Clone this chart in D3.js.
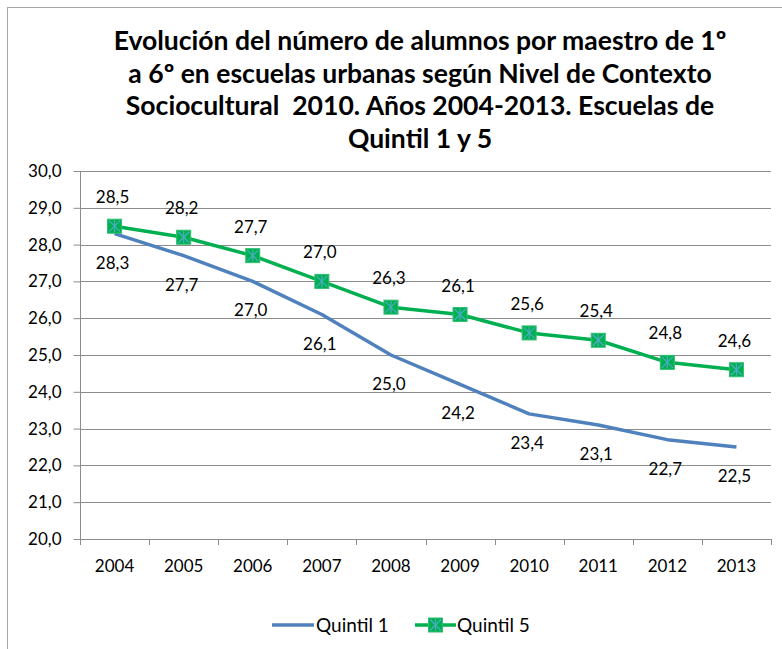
<!DOCTYPE html>
<html><head><meta charset="utf-8">
<script src="https://cdn.jsdelivr.net/npm/d3@7"></script>
<style>
body{margin:0;background:#fff;}
svg{display:block;font-family:Lato,"Open Sans",sans-serif;}
</style></head>
<body>
<svg id="c" width="782" height="649"></svg>
<script>
const years = ["2004","2005","2006","2007","2008","2009","2010","2011","2012","2013"];
const quintil1 = [28.3,27.7,27.0,26.1,25.0,24.2,23.4,23.1,22.7,22.5];
const quintil5 = [28.5,28.2,27.7,27.0,26.3,26.1,25.6,25.4,24.8,24.6];
const yTicks = [20,21,22,23,24,25,26,27,28,29,30];
const titleLines = ["Evolución del número de alumnos por maestro de 1º",
  "a 6º en escuelas urbanas según Nivel de Contexto",
  "Sociocultural  2010. Años 2004-2013. Escuelas de",
  "Quintil 1 y 5"];
const seriesNames = ["Quintil 1","Quintil 5"];

const svg = d3.select("#c");
const fmt = v => v.toFixed(1).replace(".", ",");
const LBL = 17;

// outer border
svg.append("rect").attr("x",7.5).attr("y",7.5).attr("width",800).attr("height",700)
  .attr("fill","none").attr("stroke","#a6a6a6").attr("stroke-width",1);

// title
const t = svg.append("text").attr("text-anchor","middle").attr("font-weight","bold")
  .attr("font-size",22).attr("fill","#000").style("white-space","pre");
const tsp = titleLines.map((s,i)=>
  t.append("tspan").attr("x",420).attr("y",50+i*32.7).text(s));
const w0 = tsp[0].node().getComputedTextLength();
t.attr("font-size", Math.min(27, 22*613/w0));

const x = d3.scaleBand().domain(years).range([80,771]);
const y = d3.scaleLinear().domain([20,30]).range([539,171]);

// gridlines
svg.append("g").selectAll("line").data(yTicks.filter(d=>d>20)).join("line")
  .attr("x1",80).attr("x2",771).attr("y1",d=>Math.round(y(d))+0.5).attr("y2",d=>Math.round(y(d))+0.5)
  .attr("stroke","#8c8c8c").attr("stroke-width",1);

// y axis
const ya = svg.append("g").attr("transform","translate(80.5,0)")
  .call(d3.axisLeft(y).tickValues(yTicks).tickSize(7).tickPadding(12).tickFormat(fmt));
ya.select(".domain").attr("stroke","#8c8c8c").attr("d","M0,171V539.5");
ya.selectAll(".tick line").attr("stroke","#8c8c8c");
ya.selectAll(".tick text").attr("font-family","Lato,sans-serif").attr("font-size",LBL).attr("fill","#000");

// x axis
const xa = svg.append("g").attr("transform","translate(0,539.5)")
  .call(d3.axisBottom(x).tickSize(0).tickPadding(20));
xa.select(".domain").attr("stroke","#8c8c8c").attr("d","M80,0H771");
xa.selectAll(".tick text").attr("font-family","Lato,sans-serif").attr("font-size",LBL).attr("fill","#000");
svg.append("g").selectAll("line").data(d3.range(years.length+1)).join("line")
  .attr("x1",i=>Math.round(80+i*x.step())+0.5).attr("x2",i=>Math.round(80+i*x.step())+0.5)
  .attr("y1",539).attr("y2",545).attr("stroke","#8c8c8c");

const cx = d => x(d)+x.bandwidth()/2;
const line = d3.line().x((d,i)=>cx(years[i])).y(d=>y(d));

svg.append("path").datum(quintil1).attr("d",line).attr("fill","none")
  .attr("stroke","#4f81bd").attr("stroke-width",3.5).attr("stroke-linejoin","round");
svg.append("path").datum(quintil5).attr("d",line).attr("fill","none")
  .attr("stroke","#00b050").attr("stroke-width",3.5).attr("stroke-linejoin","round");

function marker(g, px, py){
  const s=7;
  g.append("rect").attr("x",px-s).attr("y",py-s).attr("width",2*s).attr("height",2*s)
    .attr("fill","#00b050").attr("stroke","#2fbf6f").attr("stroke-width",1);
  const c="#4bacc6";
  g.append("line").attr("x1",px-s+1.5).attr("y1",py-s+1.5).attr("x2",px+s-1.5).attr("y2",py+s-1.5).attr("stroke",c).attr("stroke-width",1.2);
  g.append("line").attr("x1",px+s-1.5).attr("y1",py-s+1.5).attr("x2",px-s+1.5).attr("y2",py+s-1.5).attr("stroke",c).attr("stroke-width",1.2);
  g.append("line").attr("x1",px).attr("y1",py-s+1).attr("x2",px).attr("y2",py+s-1).attr("stroke",c).attr("stroke-width",1.2);
}
const mg = svg.append("g");
quintil5.forEach((v,i)=>marker(mg,cx(years[i]),y(v)));

// data labels
svg.append("g").selectAll("text").data(quintil5).join("text")
  .attr("x",(d,i)=>cx(years[i])-2).attr("y",d=>y(d)-23)
  .attr("text-anchor","middle").attr("font-size",LBL).text(fmt);
svg.append("g").selectAll("text").data(quintil1).join("text")
  .attr("x",(d,i)=>cx(years[i])-2).attr("y",d=>y(d)+35)
  .attr("text-anchor","middle").attr("font-size",LBL).text(fmt);

// legend
const lg = svg.append("g");
lg.append("line").attr("x1",272).attr("x2",314).attr("y1",625).attr("y2",625)
  .attr("stroke","#4f81bd").attr("stroke-width",3.5);
lg.append("text").attr("x",316).attr("y",632).attr("font-size",19).text(seriesNames[0]);
lg.append("line").attr("x1",415).attr("x2",456).attr("y1",625).attr("y2",625)
  .attr("stroke","#00b050").attr("stroke-width",3.5);
marker(lg,435.5,625);
lg.append("text").attr("x",457).attr("y",632).attr("font-size",19).text(seriesNames[1]);
</script>
</body></html>
